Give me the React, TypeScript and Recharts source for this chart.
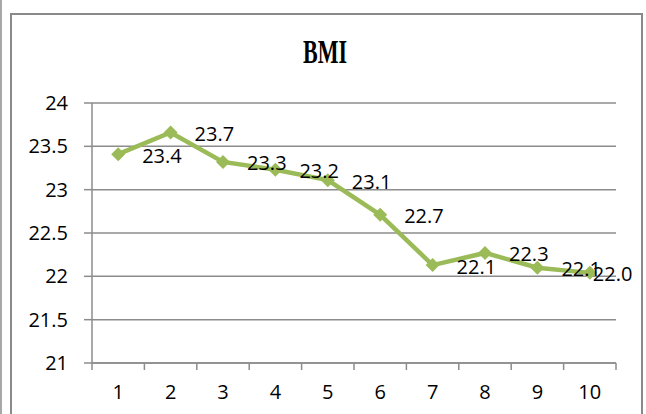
import { LineChart, Line, XAxis, YAxis, CartesianGrid, LabelList } from 'recharts'

const categories = ['1', '2', '3', '4', '5', '6', '7', '8', '9', '10']
const bmi = [23.41, 23.66, 23.32, 23.23, 23.11, 22.71, 22.13, 22.27, 22.1, 22.04]
const yTicks = [21, 21.5, 22, 22.5, 23, 23.5, 24]
const title = 'BMI'

const data = categories.map((c, i) => ({ name: c, bmi: bmi[i] }))

const W = 646
const H = 414
const margin = { top: 103, right: 30, left: 32, bottom: 11 }
const yAxisW = 60
const band = (W - margin.left - margin.right - yAxisW) / categories.length
const xTickSize = 6
const xTickMargin = 16
const gray = '#8c8c8c'
const green = '#9BBB59'
const font = '"Open Sans", "Liberation Sans", sans-serif'

function XTick(props: any) {
  const { x, y, payload, index } = props
  const axisY = y - xTickSize - xTickMargin
  const last = index === categories.length - 1
  return (
    <g>
      <line x1={x - band / 2} y1={axisY} x2={x - band / 2} y2={axisY + xTickSize + 1} stroke={gray} strokeWidth={1.5} />
      {last && (
        <line x1={x + band / 2} y1={axisY} x2={x + band / 2} y2={axisY + xTickSize + 1} stroke={gray} strokeWidth={1.5} />
      )}
      <text x={x} y={y} dy="0.71em" textAnchor="middle" fontSize={20} fontFamily={font} fill="#000">
        {payload.value}
      </text>
    </g>
  )
}

function Diamond(props: any) {
  const { cx, cy } = props
  if (cx == null || cy == null) return null
  const r = 7
  return <polygon points={`${cx},${cy - r} ${cx + r},${cy} ${cx},${cy + r} ${cx - r},${cy}`} fill={green} />
}

function PointLabel(props: any) {
  const { x, y, value, index } = props
  // Excel pulls the last label back inside the plot
  const dx = index === categories.length - 1 ? 3 : 24
  return (
    <text x={x + dx} y={y + 1.5} dy="0.35em" textAnchor="start" fontSize={20} fontFamily={font} fill="#000">
      {Number(value).toFixed(1)}
    </text>
  )
}

export default function App() {
  return (
    <div style={{ position: 'fixed', left: 0, top: 0, width: W, height: H, background: '#fff', overflow: 'hidden' }}>
      <div style={{ position: 'absolute', left: 0, top: 0, width: 2, height: H, background: '#a8a8a8' }} />
      <div
        style={{
          position: 'absolute',
          left: 10,
          top: 13,
          width: 633,
          height: 500,
          border: '2px solid #8a8a8a',
          boxSizing: 'border-box',
        }}
      />
      <svg width={W} height={80} style={{ position: 'absolute', left: 0, top: 0 }}>
        <text
          x={303}
          y={63}
          fontSize={33}
          fontWeight="bold"
          fontFamily='"Liberation Serif", serif'
          textLength={44}
          lengthAdjust="spacingAndGlyphs"
          fill="#000"
        >
          {title}
        </text>
      </svg>
      <div style={{ position: 'absolute', left: 0, top: 0 }}>
        <LineChart width={W} height={H} data={data} margin={margin}>
          <CartesianGrid vertical={false} stroke={gray} strokeWidth={1.5} />
          <XAxis
            dataKey="name"
            height={40}
            stroke={gray}
            strokeWidth={1.5}
            padding={{ left: band / 2, right: band / 2 }}
            tickLine={false}
            tickSize={xTickSize}
            tickMargin={xTickMargin}
            tick={<XTick />}
            interval={0}
          />
          <YAxis
            width={yAxisW}
            domain={[21, 24]}
            ticks={yTicks}
            stroke={gray}
            strokeWidth={1.5}
            tickSize={8}
            tickMargin={16}
            tick={{ fontSize: 20, fontFamily: font, fill: '#000' }}
          />
          <Line
            dataKey="bmi"
            stroke={green}
            strokeWidth={4.5}
            dot={<Diamond />}
            activeDot={false}
            isAnimationActive={false}
          >
            <LabelList dataKey="bmi" content={<PointLabel />} />
          </Line>
        </LineChart>
      </div>
    </div>
  )
}
